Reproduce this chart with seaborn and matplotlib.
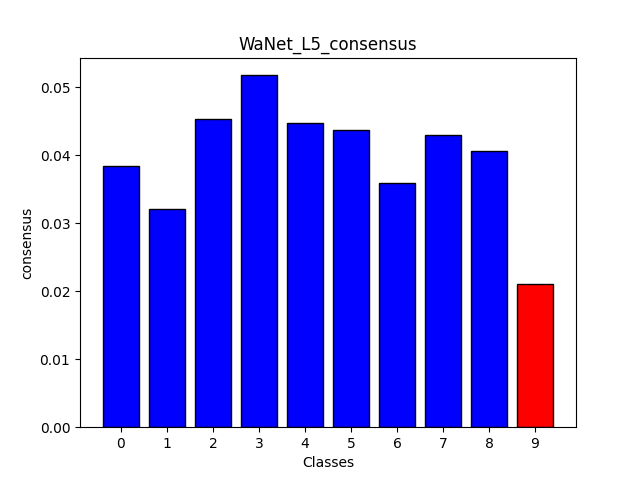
import matplotlib
matplotlib.use('Agg')
import matplotlib.pyplot as plt
import pandas as pd
import seaborn as sns

# values
classes = ['0', '1', '2', '3', '4', '5', '6', '7', '8', '9']
consensus = [0.0385, 0.0321, 0.0453, 0.0518, 0.0447, 0.0438, 0.0359, 0.0430, 0.0406, 0.0210]
target = '9'

df = pd.DataFrame({'Classes': classes, 'consensus': consensus})
colors = {c: ('red' if c == target else 'blue') for c in classes}

fig, ax = plt.subplots(figsize=(6.4, 4.8), dpi=100)
sns.barplot(data=df, x='Classes', y='consensus', hue='Classes', palette=colors,
            legend=False, edgecolor='black', linewidth=1, saturation=1, width=0.8, ax=ax)

ax.set_xlim(-0.89, 9.89)
ax.set_ylim(0, max(consensus) * 1.05)
ax.set_title('WaNet_L5_consensus')
ax.set_xlabel('Classes')
ax.set_ylabel('consensus')

fig.savefig('out.png')
